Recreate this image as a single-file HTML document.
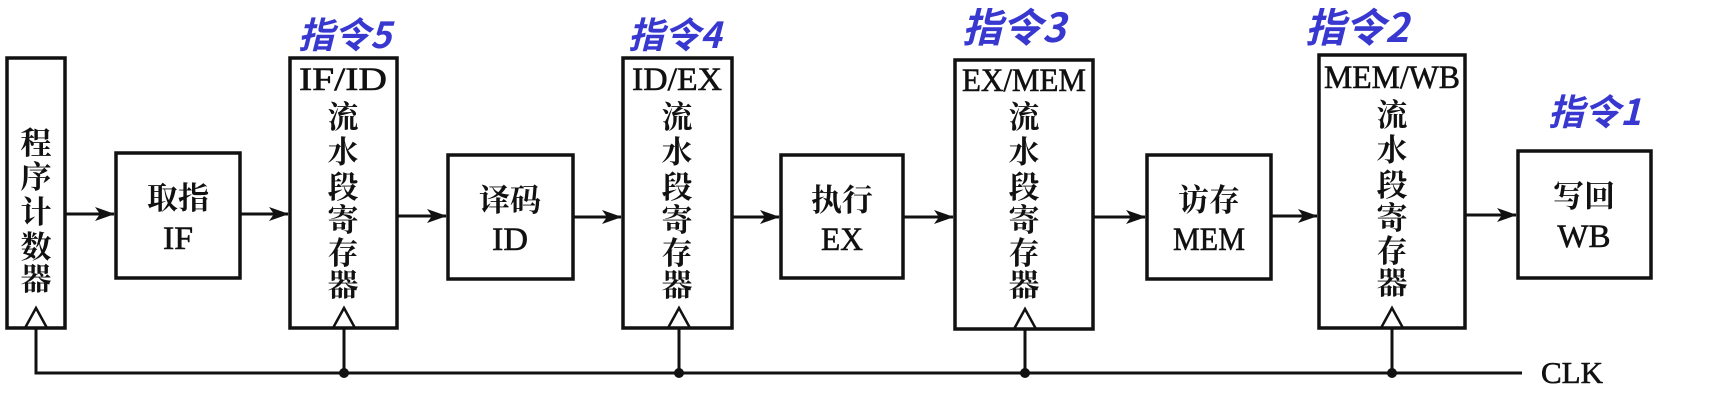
<!DOCTYPE html>
<html><head><meta charset="utf-8"><style>
html,body{margin:0;padding:0;background:#fff;}
svg{display:block;}
.t{font-family:"Liberation Serif","Noto Serif CJK SC",serif;fill:#111;text-anchor:middle;stroke:#111;stroke-width:0.6;}
.c{font-family:"Liberation Serif","Noto Serif CJK SC","Noto Sans CJK SC",serif;font-size:31px;fill:#111;text-anchor:middle;font-weight:bold;}
.h{font-family:"Noto Sans CJK SC","WenQuanYi Zen Hei",sans-serif;fill:#3838d0;font-size:36px;font-weight:bold;font-style:italic;}
</style></head><body>
<svg width="1736" height="420" viewBox="0 0 1736 420" xmlns="http://www.w3.org/2000/svg">
<defs><marker id="a" markerWidth="20" markerHeight="14" refX="19" refY="7" orient="auto" markerUnits="userSpaceOnUse"><path d="M0,0 L20,7 L0,14 L5,7 Z" fill="#111"/></marker></defs>
<g stroke="#111" stroke-width="3.5" fill="none">
<rect x="7" y="58" width="58" height="270"/>
<rect x="116" y="153" width="124" height="125"/>
<rect x="290" y="58" width="107" height="270"/>
<rect x="448" y="155" width="125" height="124"/>
<rect x="623" y="58" width="109" height="270"/>
<rect x="781" y="155" width="122" height="123"/>
<rect x="955" y="60" width="138" height="269"/>
<rect x="1147" y="155" width="124" height="124"/>
<rect x="1319" y="55" width="146" height="273"/>
<rect x="1518" y="151" width="133" height="127"/>
<g stroke-width="2.5">
<path d="M25,328 L36,308 L47,328"/><path d="M333,328 L344,308 L355,328"/><path d="M668,328 L679,308 L690,328"/><path d="M1014,329 L1025,309 L1036,329"/><path d="M1381,328 L1392,308 L1403,328"/>
</g>
<path d="M36,328 V373 H1522 M344,328 V373 M679,328 V373 M1025,329 V373 M1392,328 V373" stroke-width="3"/>
<g stroke-width="3" marker-end="url(#a)">
<line x1="65" y1="214" x2="114" y2="214"/><line x1="240" y1="214" x2="288" y2="214"/>
<line x1="397" y1="216" x2="446" y2="216"/><line x1="573" y1="217" x2="621" y2="217"/>
<line x1="732" y1="217" x2="779" y2="217"/><line x1="903" y1="217" x2="953" y2="217"/>
<line x1="1093" y1="217" x2="1145" y2="217"/><line x1="1271" y1="216" x2="1317" y2="216"/>
<line x1="1465" y1="215" x2="1516" y2="215"/>
</g></g>
<g fill="#111"><circle cx="344" cy="373" r="5"/><circle cx="679" cy="373" r="5"/><circle cx="1025" cy="373" r="5"/><circle cx="1392" cy="373" r="5"/></g>
<g class="c" font-size="30">
<text x="36" y="154">程</text><text x="36" y="188">序</text><text x="36" y="223">计</text><text x="36" y="258">数</text><text x="36" y="290">器</text>
</g>
<g class="c">
<text x="178" y="209">取指</text><text x="510" y="211">译码</text><text x="842" y="211">执行</text><text x="1209" y="211">访存</text><text x="1584" y="207">写回</text>
</g>
<g class="t" font-size="33">
<text x="178" y="249" textLength="30" lengthAdjust="spacingAndGlyphs">IF</text>
<text x="510" y="250" textLength="36" lengthAdjust="spacingAndGlyphs">ID</text>
<text x="842" y="250" textLength="42" lengthAdjust="spacingAndGlyphs">EX</text>
<text x="1209" y="250" textLength="72" lengthAdjust="spacingAndGlyphs">MEM</text>
<text x="1584" y="247">WB</text>
<text x="343" y="90" textLength="88" lengthAdjust="spacingAndGlyphs">IF/ID</text>
<text x="677" y="90" textLength="90" lengthAdjust="spacingAndGlyphs">ID/EX</text>
<text x="1024" y="91" textLength="124" lengthAdjust="spacingAndGlyphs">EX/MEM</text>
<text x="1392" y="88" textLength="136" lengthAdjust="spacingAndGlyphs">MEM/WB</text>
<text x="1572" y="383" font-size="31">CLK</text>
</g>
<g class="c" font-size="30">
<text x="343" y="128">流</text><text x="343" y="163">水</text><text x="343" y="198">段</text><text x="343" y="231">寄</text><text x="343" y="264">存</text><text x="343" y="296">器</text>
<text x="677" y="128">流</text><text x="677" y="163">水</text><text x="677" y="198">段</text><text x="677" y="231">寄</text><text x="677" y="264">存</text><text x="677" y="296">器</text>
<text x="1024" y="128">流</text><text x="1024" y="163">水</text><text x="1024" y="198">段</text><text x="1024" y="231">寄</text><text x="1024" y="264">存</text><text x="1024" y="296">器</text>
<text x="1392" y="126">流</text><text x="1392" y="161">水</text><text x="1392" y="196">段</text><text x="1392" y="229">寄</text><text x="1392" y="262">存</text><text x="1392" y="294">器</text>
</g>
<g class="h">
<text x="298" y="48">指令5</text>
<text x="628" y="48">指令4</text>
<text x="962" y="42" font-size="40">指令3</text>
<text x="1305" y="42" font-size="40">指令2</text>
<text x="1548" y="125">指令1</text>
</g>
</svg>
</body></html>
